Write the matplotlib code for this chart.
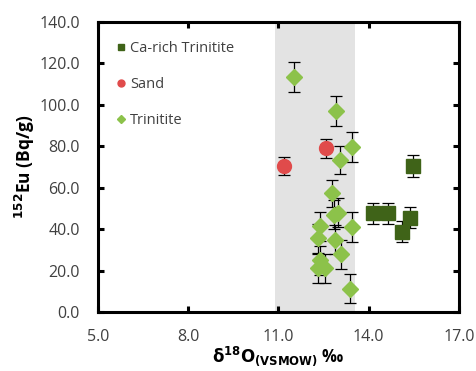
import numpy as np
import matplotlib.pyplot as plt

# Ca-rich Trinitite
ca_x = [14.15, 14.65, 15.12, 15.37, 15.46]
ca_y = [47.6, 47.6, 38.8, 45.5, 70.5]
ca_err = [5.0, 5.0, 5.0, 5.0, 5.2]

# Sand
sand_x = [11.18, 12.58]
sand_y = [70.5, 79.0]
sand_err = [4.3, 4.6]

# Trinitite
tr_x = [11.52, 12.91, 13.45, 13.05, 12.77, 12.85, 12.98, 12.38, 13.43,
        12.33, 12.88, 13.08, 12.38, 12.33, 12.55, 13.38]
tr_y = [113.3, 96.9, 79.5, 73.4, 57.3, 47.0, 47.8, 41.5, 41.2,
        35.6, 34.8, 28.0, 25.1, 21.1, 21.1, 11.2]
tr_err = [7.2, 7.3, 7.2, 6.8, 6.5, 7.0, 7.0, 7.0, 7.2,
          7.0, 7.0, 7.0, 7.0, 7.0, 7.0, 7.0]

shade_lo, shade_hi = 10.9, 13.55

plt.rcParams['font.family'] = ['Open Sans', 'DejaVu Sans']

fig = plt.figure(figsize=(4.77, 3.71), dpi=100)
ax = fig.add_axes([0.2055, 0.159, 0.7565, 0.7817])

ax.axvspan(shade_lo, shade_hi, color="#e3e3e3", zorder=0, lw=0)

eb = dict(ecolor="black", elinewidth=0.9, capsize=4, capthick=0.9, linestyle="none")
ax.errorbar(ca_x, ca_y, yerr=ca_err, marker="s", ms=10, mfc="#3f6318",
            mec="#3f6318", label="Ca-rich Trinitite", zorder=3, **eb)
ax.errorbar(sand_x, sand_y, yerr=sand_err, marker="o", ms=10, mfc="#e04b4b",
            mec="#e04b4b", label="Sand", zorder=3, **eb)
ax.errorbar(tr_x, tr_y, yerr=tr_err, marker="D", ms=8.5, mfc="#8cc24a",
            mec="#8cc24a", label="Trinitite", zorder=3, **eb)

ax.set_xlim(5, 17)
ax.set_ylim(0, 140)
ax.set_xticks(np.arange(5, 17.1, 3))
ax.set_yticks(np.arange(0, 141, 20))
ax.set_xticklabels([f"{v:.1f}" for v in np.arange(5, 17.1, 3)])
ax.set_yticklabels([f"{v:.1f}" for v in np.arange(0, 141, 20)])

for s in ax.spines.values():
    s.set_linewidth(2.2)
ax.tick_params(direction="in", length=4, width=2.2, labelsize=11.5,
               top=True, right=True, colors="black")
ax.tick_params(axis="y", pad=13)
ax.tick_params(axis="x", pad=12)
ax.tick_params(axis="both", labelcolor="#404040")

ax.set_xlabel(r"$\mathbf{\delta^{18}O_{(VSMOW)}}$ ‰", fontsize=12, fontweight="bold", labelpad=0)
ax.set_ylabel(r"$\mathbf{^{152}}$Eu (Bq/g)", fontsize=12.5, fontweight="bold", labelpad=2)

handles, labels = ax.get_legend_handles_labels()
leg = ax.legend([h[0] for h in handles], labels, loc="upper left", frameon=False,
                fontsize=10.5, markerscale=0.5, handlelength=0.6, handletextpad=0.3,
                labelspacing=1.45, borderaxespad=0.9)
for t in leg.get_texts():
    t.set_color("#404040")

fig.savefig("out.png", dpi=100)
